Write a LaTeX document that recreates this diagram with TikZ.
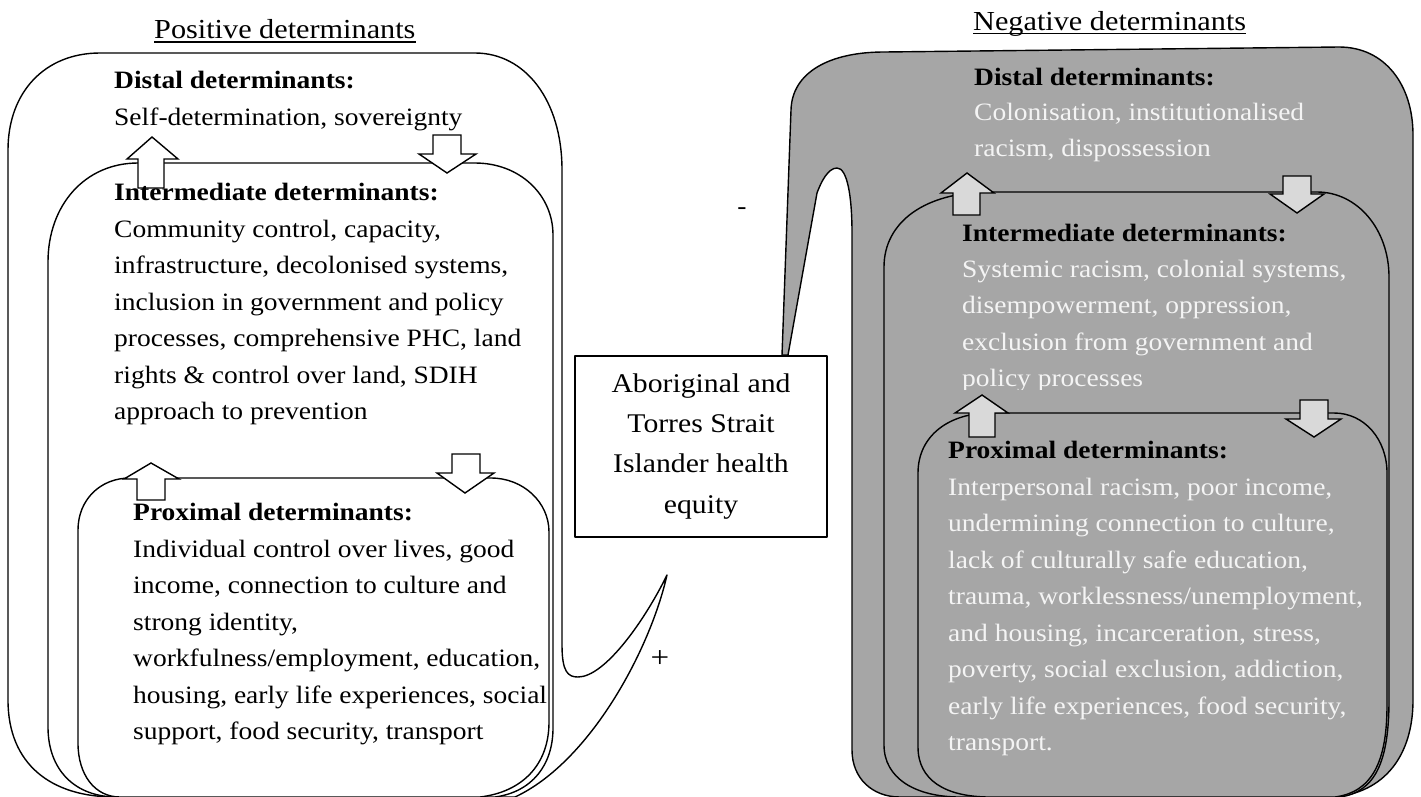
\documentclass[tikz,border=0pt]{standalone}
\usepackage{fontspec}
\setmainfont{Liberation Serif}[FakeStretch=1.1]
\definecolor{panelgray}{HTML}{A6A6A6}
\definecolor{arrowgray}{HTML}{D9D9D9}
\definecolor{softwhite}{HTML}{F4F4F4}
\tikzset{
  shapeW/.style={draw=black, fill=white, line width=1.4pt},
  shapeG/.style={draw=black, fill=panelgray, line width=1.4pt},
  blockW/.style={draw=black, fill=white, line width=1.4pt, line join=miter},
  blockG/.style={draw=black, fill=arrowgray, line width=1.4pt, line join=miter},
  bodytext/.style={font=\fontsize{25}{36.5}\selectfont, align=left, anchor=base west, inner sep=0pt},
  headtext/.style={bodytext, font=\fontsize{25}{36.5}\selectfont\bfseries},
  lighttext/.style={bodytext, text=softwhite},
  titletext/.style={font=\fontsize{27.5}{33}\selectfont, anchor=base west, inner sep=0pt},
  boxtext/.style={font=\fontsize{27}{40.4}\selectfont, align=center, anchor=base, inner sep=0pt},
  signtext/.style={inner sep=0pt, anchor=base}
}
\begin{document}
\begin{tikzpicture}[x=1pt, y=-1pt, line join=round]
\useasboundingbox (0,0) rectangle (1421,796);

% ---------------- titles
\node[titletext] (tpos) at (154,38) {Positive determinants};
\draw[line width=1.3pt] ([yshift=-4pt]tpos.base west) -- ([yshift=-4pt]tpos.base east);
\node[titletext] (tneg) at (973,30) {Negative determinants};
\draw[line width=1.3pt] ([yshift=-3.5pt]tneg.base west) -- ([yshift=-3.5pt]tneg.base east);

% ---------------- left panel shapes
\draw[shapeW] (8,700) -- (8,150) .. controls (8,92) and (45,53) .. (100,53) -- (475,53)
  .. controls (525,53) and (562,100) .. (562,170) -- (562,645)
  .. controls (562,672) and (568,677) .. (578,677)
  .. controls (605,677) and (645,620) .. (667,575)
  .. controls (650,650) and (590,762) .. (515,797) -- (115,797)
  .. controls (52,797) and (8,765) .. (8,700) -- cycle;
\draw[shapeW] (48,727) -- (48,262) .. controls (48,205) and (85,163) .. (138,163) -- (475,163)
  .. controls (520,163) and (553,195) .. (553,235) -- (553,728)
  .. controls (553,765) and (532,792) .. (495,797) -- (117,797)
  .. controls (75,797) and (48,770) .. (48,727) -- cycle;
\draw[shapeW] (78,743) -- (78,530) .. controls (78,500) and (100,478) .. (130,478) -- (491,478)
  .. controls (523,478) and (549,502) .. (549,532) -- (549,722)
  .. controls (549,765) and (522,792) .. (480,797) -- (120,797)
  .. controls (95,797) and (78,775) .. (78,743) -- cycle;

% left block arrows
\draw[blockW] (152,137) -- (178,159) -- (164,159) -- (164,188) -- (138,188) -- (138,159) -- (127,159) -- cycle;
\draw[blockW] (433,135) -- (461,135) -- (461,154) -- (476,154) -- (447,173) -- (419,154) -- (433,154) -- cycle;
\draw[blockW] (151,463) -- (179,479) -- (165,479) -- (165,500) -- (137,500) -- (137,479) -- (124,479) -- cycle;
\draw[blockW] (452,454) -- (480,454) -- (480,473) -- (494,473) -- (465,493) -- (437,473) -- (452,473) -- cycle;

% ---------------- right panel shapes
\draw[shapeG] (782,355) -- (791,110) .. controls (792,72) and (830,52) .. (884,52) -- (1339,47)
  .. controls (1385,47) and (1413,85) .. (1413,135) -- (1413,700)
  .. controls (1413,755) and (1385,793) .. (1333,797) -- (900,797)
  .. controls (872,797) and (852,778) .. (852,750) -- (852,233)
  .. controls (852,195) and (847,168) .. (837,168)
  .. controls (828,168) and (821,182) .. (817,193) -- (788,355) -- cycle;
\draw[shapeG] (884,745) -- (884,267) .. controls (884,222) and (925,192) .. (990,192) -- (1317,192)
  .. controls (1358,192) and (1389,230) .. (1389,277) -- (1389,700)
  .. controls (1389,762) and (1375,792) .. (1340,797) -- (960,797)
  .. controls (915,797) and (884,778) .. (884,745) -- cycle;
\draw[shapeG] (918,747) -- (918,473) .. controls (918,435) and (950,413) .. (990,413) -- (1334,413)
  .. controls (1365,413) and (1387,440) .. (1387,473) -- (1387,705)
  .. controls (1387,762) and (1372,792) .. (1335,797) -- (990,797)
  .. controls (945,797) and (918,780) .. (918,747) -- cycle;

% right block arrows
\draw[blockG] (967,173) -- (994,193) -- (980,193) -- (980,215) -- (953,215) -- (953,193) -- (941,193) -- cycle;
\draw[blockG] (1283,176) -- (1311,176) -- (1311,194) -- (1324,194) -- (1297,213) -- (1270,194) -- (1283,194) -- cycle;
\draw[blockG] (982,395) -- (1008,413) -- (995,413) -- (995,437) -- (969,437) -- (969,413) -- (955,413) -- cycle;
\draw[blockG] (1300,400) -- (1328,400) -- (1328,419) -- (1341,419) -- (1314,437) -- (1286,419) -- (1300,419) -- cycle;

% ---------------- centre box
\node[draw=black, fill=white, line width=1.4pt, minimum width=252pt, minimum height=181pt, inner sep=0pt] (equity) at (701,446.5) {};
\node[boxtext] (equitytext) at (701,513.2) {Aboriginal and\\Torres Strait\\Islander health\\equity};

% signs
\node[signtext, font=\fontsize{25}{30}\selectfont] (minus) at (742,214) {-};
\node[signtext, font=\fontsize{30}{36}\selectfont] (plus) at (660,667) {+};

% ---------------- left texts (multi-line nodes anchored at the last baseline)
\node[headtext] (ldh) at (114,88) {Distal determinants:};
\node[bodytext] (ldt) at (114,125) {Self-determination, sovereignty};
\node[headtext] (lih) at (114,200) {Intermediate determinants:};
\node[bodytext] (lit) at (114,419.5) {Community control, capacity,\\infrastructure, decolonised systems,\\inclusion in government and policy\\processes, comprehensive PHC, land\\rights \& control over land, SDIH\\approach to prevention};
\node[headtext] (lph) at (133,520) {Proximal determinants:};
\node[bodytext] (lpt) at (133,739.5) {Individual control over lives, good\\income, connection to culture and\\strong identity,\\workfulness/employment, education,\\housing, early life experiences, social\\support, food security, transport};

% ---------------- right texts
\node[headtext] (rdh) at (974,85) {Distal determinants:};
\node[lighttext] (rdt) at (974,156.5) {Colonisation, institutionalised\\racism, dispossession};
\node[headtext] (rih) at (962,241) {Intermediate determinants:};
\begin{scope}
  \clip (900,250) rectangle (1400,389);
  \node[lighttext] (rit) at (962,386.5) {Systemic racism, colonial systems,\\disempowerment, oppression,\\exclusion from government and\\policy processes};
\end{scope}
\node[headtext] (rph) at (948,458) {Proximal determinants:};
\node[lighttext] (rpt) at (948,750.5) {Interpersonal racism, poor income,\\undermining connection to culture,\\lack of culturally safe education,\\trauma, worklessness/unemployment,\\and housing, incarceration, stress,\\poverty, social exclusion, addiction,\\early life experiences, food security,\\transport.};
\end{tikzpicture}
\end{document}
